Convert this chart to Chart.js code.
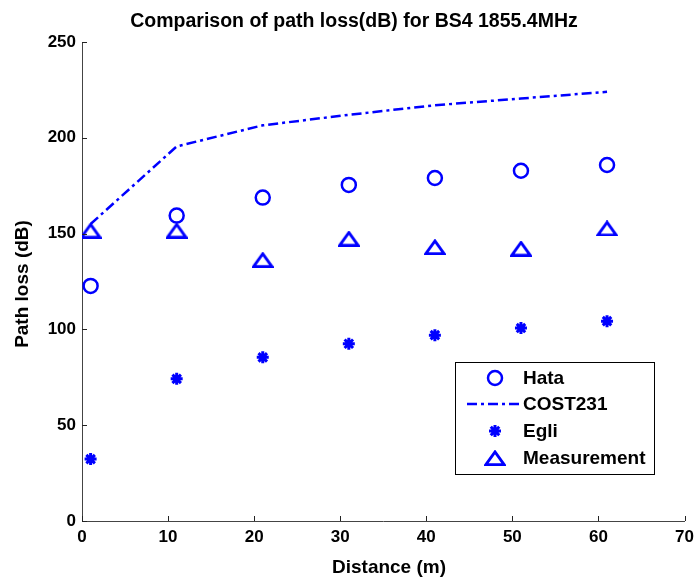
<!DOCTYPE html>
<html>
<head>
<meta charset="utf-8">
<script src="https://cdn.jsdelivr.net/npm/chart.js@4"></script>
<style>
  html, body { margin: 0; padding: 0; background: #fff; }
  #wrap { width: 694px; height: 582px; }
</style>
</head>
<body>
<div id="wrap"><canvas id="lossChart"></canvas></div>
<script>
const distances = [1, 11, 21, 31, 41, 51, 61];
const hata = [122.7, 159.4, 168.8, 175.4, 179.0, 182.8, 185.8];
const cost231 = [155, 195.5, 206.5, 212, 217, 220.5, 224];
const egli = [32.3, 74.2, 85.4, 92.5, 97, 100.7, 104.3];
const measurement = [151.6, 151.6, 136.3, 147.4, 143.0, 142.2, 152.7];
const seriesNames = ["Hata", "COST231", "Egli", "Measurement"];

const BLUE = "#0000ff";
const FONT = "'Liberation Sans', Arial, Helvetica, sans-serif";
const DASH = [10, 4, 3, 4];

// matlab-style flat triangle marker
const makeTriangle = (w, h, lw) => {
  const c = document.createElement("canvas");
  c.width = w;
  c.height = h;
  const g = c.getContext("2d");
  g.strokeStyle = BLUE;
  g.lineWidth = lw;
  g.lineJoin = "miter";
  g.beginPath();
  g.moveTo(w / 2, lw / 2 + 0.5);
  g.lineTo(w - lw / 2 - 0.5, h - lw / 2);
  g.lineTo(lw / 2 + 0.5, h - lw / 2);
  g.closePath();
  g.stroke();
  return c;
};
const triangle = makeTriangle(22, 16, 2.8);

const toPoints = (ys) => distances.map((x, i) => ({ x: x, y: ys[i] }));

const decorations = {
  id: "decorations",
  afterDraw(chart) {
    const c = chart.ctx;
    const area = chart.chartArea;
    const xs = chart.scales.x;
    const ys = chart.scales.y;
    c.save();

    // inward tick marks
    c.strokeStyle = "#222";
    c.lineWidth = 1;
    c.beginPath();
    ys.ticks.forEach((t) => {
      const py = Math.round(ys.getPixelForValue(t.value)) + 0.5;
      c.moveTo(area.left, py);
      c.lineTo(area.left + 5, py);
    });
    xs.ticks.forEach((t) => {
      const px = Math.round(xs.getPixelForValue(t.value)) + 0.5;
      c.moveTo(px, area.bottom);
      c.lineTo(px, area.bottom - 5);
    });
    c.stroke();

    // title
    c.fillStyle = "#000";
    c.textAlign = "center";
    c.textBaseline = "alphabetic";
    c.font = "bold 19.5px " + FONT;
    c.fillText("Comparison of path loss(dB) for BS4 1855.4MHz", 354, 27);

    // axis titles
    c.textBaseline = "middle";
    c.font = "bold 19px " + FONT;
    c.fillText("Distance (m)", 389, 568);
    c.save();
    c.translate(23, 284);
    c.rotate(-Math.PI / 2);
    c.fillText("Path loss (dB)", 0, 0);
    c.restore();

    // legend box
    const bx = 455, by = 362, bw = 199, bh = 112;
    c.fillStyle = "#fff";
    c.fillRect(bx, by, bw, bh);
    c.strokeStyle = "#000";
    c.lineWidth = 1;
    c.strokeRect(bx + 0.5, by + 0.5, bw, bh);

    const rowY = [378, 404, 431, 458];
    const mx = 495;
    c.font = "bold 19px " + FONT;
    c.textAlign = "left";
    c.fillStyle = "#000";
    seriesNames.forEach((name, i) => c.fillText(name, 523, rowY[i] + 1));

    c.strokeStyle = BLUE;
    // circle
    c.lineWidth = 2.5;
    c.beginPath();
    c.arc(mx, rowY[0], 7, 0, Math.PI * 2);
    c.stroke();
    // dash-dot line
    c.lineWidth = 2.5;
    c.setLineDash(DASH);
    c.beginPath();
    c.moveTo(467, rowY[1]);
    c.lineTo(522, rowY[1]);
    c.stroke();
    c.setLineDash([]);
    // asterisk
    c.lineWidth = 3;
    c.beginPath();
    const r = 6;
    for (let k = 0; k < 4; k++) {
      const a = (k * Math.PI) / 4;
      c.moveTo(mx - r * Math.cos(a), rowY[2] - r * Math.sin(a));
      c.lineTo(mx + r * Math.cos(a), rowY[2] + r * Math.sin(a));
    }
    c.stroke();
    // triangle
    c.drawImage(triangle, mx - triangle.width / 2, rowY[3] - triangle.height / 2);

    c.restore();
  },
};

new Chart(document.getElementById("lossChart"), {
  type: "scatter",
  data: {
    datasets: [
      {
        label: seriesNames[0],
        data: toPoints(hata),
        pointStyle: "circle",
        pointRadius: 7,
        borderWidth: 2.5,
        borderColor: BLUE,
        backgroundColor: "rgba(0,0,0,0)",
      },
      {
        label: seriesNames[1],
        data: toPoints(cost231),
        showLine: true,
        pointRadius: 0,
        borderWidth: 2.5,
        borderColor: BLUE,
        borderDash: DASH,
        tension: 0,
      },
      {
        label: seriesNames[2],
        data: toPoints(egli),
        pointStyle: "star",
        pointRadius: 6,
        borderWidth: 3,
        borderColor: BLUE,
        backgroundColor: BLUE,
      },
      {
        label: seriesNames[3],
        data: toPoints(measurement),
        pointStyle: triangle,
        pointRadius: 8,
        borderColor: BLUE,
      },
    ],
  },
  options: {
    responsive: true,
    maintainAspectRatio: false,
    animation: false,
    layout: { padding: { top: 42, right: 9, left: 0, bottom: 0 } },
    scales: {
      x: {
        type: "linear",
        min: 0,
        max: 70,
        grid: { display: false, drawTicks: false },
        border: { display: true, color: "#444", width: 1 },
        ticks: {
          stepSize: 10,
          padding: 6,
          color: "#000",
          maxRotation: 0,
          font: { family: FONT, size: 17, weight: "bold" },
        },
        afterFit: (scale) => {
          scale.height = 61;
          scale.paddingLeft = 0;
          scale.paddingRight = 0;
        },
      },
      y: {
        type: "linear",
        min: 0,
        max: 250,
        grid: { display: false, drawTicks: false },
        border: { display: true, color: "#444", width: 1 },
        ticks: {
          stepSize: 50,
          padding: 6,
          color: "#000",
          font: { family: FONT, size: 17, weight: "bold" },
        },
        afterFit: (scale) => {
          scale.width = 82;
          scale.paddingTop = 0;
          scale.paddingBottom = 0;
        },
      },
    },
    plugins: {
      legend: { display: false },
      title: { display: false },
      tooltip: { enabled: false },
    },
  },
  plugins: [decorations],
});
</script>
</body>
</html>
